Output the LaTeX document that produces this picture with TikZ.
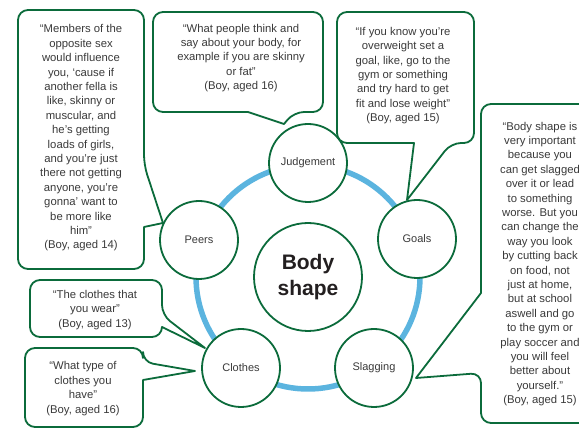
\documentclass[tikz,border=0pt]{standalone}
\usepackage{fontspec}
\setmainfont{Liberation Sans}
\usepackage{tikz}
\usepackage{xcolor}
\usetikzlibrary{backgrounds}
\definecolor{ink}{HTML}{3A3A3A}
\definecolor{dark}{HTML}{231F20}
\definecolor{leaf}{HTML}{0B6B3B}
\definecolor{ringcol}{HTML}{5BB4DF}

\begin{document}
\begin{tikzpicture}[
  x=1pt, y=-1pt,
  topic/.style={circle, draw=leaf, line width=1.8pt, fill=white, minimum size=78pt, inner sep=0pt,
    text=ink, font=\fontsize{11}{13}\selectfont},
  hub/.style={topic, minimum size=108pt, align=center, text=dark,
    font=\fontsize{21}{25.7}\selectfont\bfseries},
  bubble/.style={draw=leaf, line width=1.8pt, fill=white, rounded corners=10pt, line join=round},
  quote/.style={align=center, inner sep=0pt, text=ink, font=\fontsize{11.3}{14.4}\selectfont},
  ring/.style={draw=ringcol, line width=5.5pt},
]
\useasboundingbox (0,0) rectangle (579,430);
\clip (0,0) rectangle (579,430);
\node[hub] (body) at (308,277) {Body\\shape};
\node[topic] (judge) at (308,163) {Judgement};
\node[topic] (goals) at (417,239) {Goals};
\node[topic] (slag) at (374,368) {Slagging};
\node[topic] (clothes) at (241,368) {Clothes};
\node[topic] (peers) at (199,240) {Peers};
\begin{scope}[on background layer]
  \draw[ring] (body) circle (112);
\end{scope}
\draw[bubble] (81,10) -- (144,10) -- (144,165) [sharp corners] -- (163,223) -- (144,227)
  [rounded corners=10pt] -- (144,269) -- (18,269) -- (18,10) -- cycle;
\draw[bubble] (238,12) -- (323,12) -- (323,112) -- (294,112) [sharp corners] -- (284,124) -- (248,112)
  [rounded corners=10pt] -- (153,112) -- (153,12) -- cycle;
\draw[bubble] (405,12) -- (474,12) -- (474,143) -- (451,143) [sharp corners] -- (407,200) -- (414,143)
  [rounded corners=10pt] -- (337,143) -- (337,12) -- cycle;
\draw[bubble] (540,104) -- (600,104) -- (600,423) -- (481,423) -- (481,373) [sharp corners] -- (416,378)
  -- (481,293) [rounded corners=10pt] -- (481,104) -- cycle;
\draw[bubble] (96,280) -- (162,280) -- (162,315) [sharp corners] -- (205,348) -- (162,327)
  [rounded corners=10pt] -- (162,337) -- (30,337) -- (30,280) -- cycle;
\draw[bubble] (84,348) -- (143,348) -- (143,362) [sharp corners] -- (195,371) -- (143,380)
  [rounded corners=10pt] -- (143,427) -- (25,427) -- (25,348) -- cycle;
\node[quote] (peersq) at (81,138) {“Members of the\\ opposite sex\\ would influence\\ you, ‘cause if\\
  another fella is\\ like, skinny or\\ muscular, and\\ he’s getting\\ loads of girls,\\ and you’re just\\
  there not getting\\ anyone, you’re\\ gonna’ want to\\ be more like\\ him”\\ (Boy, aged 14)};
\node[quote] (judgeq) at (241,58) {“What people think and\\ say about your body, for\\
  example if you are skinny\\ or fat”\\ (Boy, aged 16)};
\node[quote] (goalsq) at (403,75.5) {“If you know you’re\\ overweight set a\\ goal, like, go to the\\
  gym or something\\ and try hard to get\\ fit and lose weight”\\ (Boy, aged 15)};
\node[quote] (slagq) at (540,264) {“Body shape is\\ very important\\ because you\\ can get slagged\\
  over it or lead\\ to something\\ worse. But you\\ can change the\\ way you look\\ by cutting back\\
  on food, not\\ just at home,\\ but at school\\ aswell and go\\ to the gym or\\ play soccer and\\
  you will feel\\ better about\\ yourself.”\\ (Boy, aged 15)};
\node[quote] (clothesqa) at (95,310) {“The clothes that\\ you wear”\\ (Boy, aged 13)};
\node[quote] (clothesqb) at (83,388.5) {“What type of\\ clothes you\\ have”\\ (Boy, aged 16)};
\end{tikzpicture}
\end{document}
